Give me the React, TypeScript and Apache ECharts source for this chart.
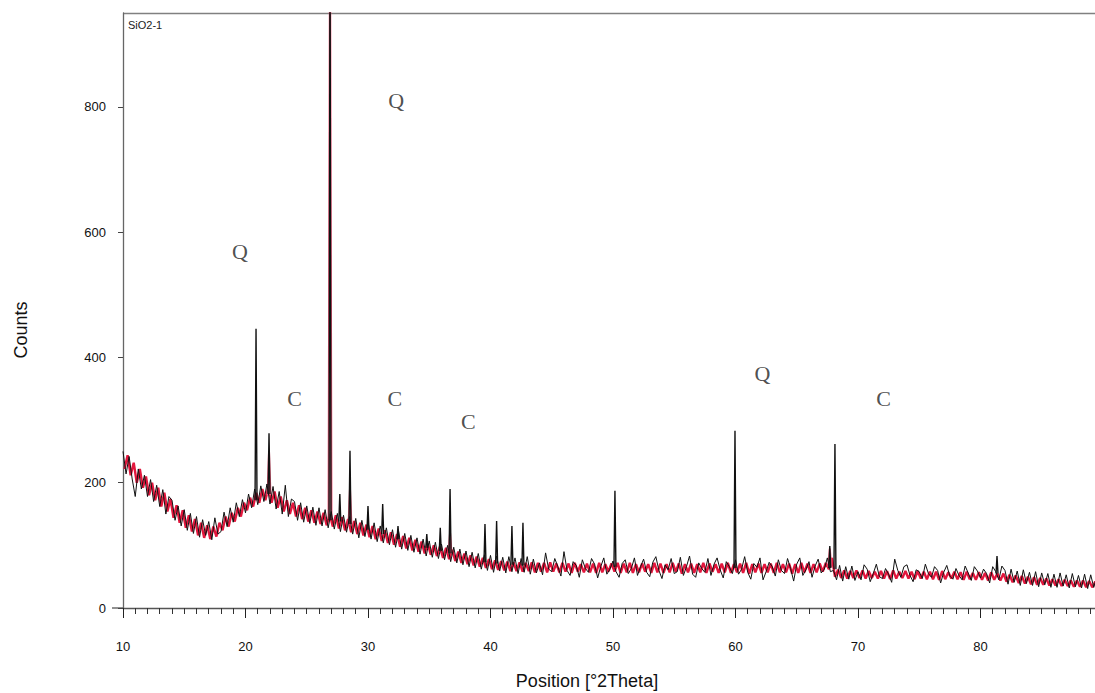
import React, { useEffect, useRef } from "react";
import * as echarts from "echarts";

// ---- data ----
const blackStart = 10;
const blackStep = 0.25;
const blackCounts = [
  250, 214, 242, 206, 178, 222, 190, 212,
  178, 205, 170, 196, 162, 189, 150, 178,
  172, 140, 163, 131, 157, 124, 151, 119,
  146, 113, 141, 116, 138, 109, 144, 118,
  122, 153, 130, 160, 137, 168, 146, 173,
  152, 182, 160, 190, 165, 195, 170, 198,
  166, 194, 158, 186, 150, 196, 146, 174,
  170, 140, 168, 137, 163, 135, 161, 132,
  160, 131, 157, 128, 154, 126, 151, 122,
  148, 121, 146, 118, 143, 112, 140, 114,
  138, 110, 136, 106, 131, 104, 128, 101,
  125, 97, 122, 94, 119, 92, 116, 89,
  112, 86, 110, 83, 107, 81, 105, 79,
  102, 77, 100, 74, 97, 72, 94, 69,
  91, 66, 89, 64, 87, 62, 85, 60,
  84, 57, 83, 59, 81, 56, 82, 58,
  80, 55, 79, 57, 82, 54, 78, 56,
  72, 53, 88, 62, 58, 79, 66, 51,
  90, 60, 52, 74, 68, 49, 77, 63,
  57, 79, 70, 48, 66, 80, 54, 62,
  75, 58, 49, 71, 77, 55, 63, 80,
  52, 66, 78, 57, 50, 73, 82, 60,
  47, 69, 61, 79, 55, 58, 81, 52,
  66, 83, 54, 49, 72, 63, 57, 79,
  52, 70, 80, 61, 48, 74, 66, 55,
  77, 54, 62, 82, 57, 46, 71, 65,
  80, 45, 58, 73, 66, 51, 77, 60,
  55, 79, 63, 43, 70, 80, 52, 61,
  74, 49, 67, 78, 56, 62, 80, 58,
  60, 45, 68, 43, 66, 46, 67, 44,
  58, 45, 69, 62, 42, 55, 70, 50,
  47, 63, 54, 41, 78, 60, 49, 66,
  69, 52, 42, 61, 58, 47, 70, 55,
  49, 66, 60, 40, 57, 68, 51, 46,
  63, 52, 45, 67, 56, 44, 66, 59,
  48, 62, 55, 40, 66, 58, 45, 67,
  60, 38, 62, 41, 59, 36, 61, 39,
  57, 36, 58, 34, 56, 37, 55, 33,
  54, 33, 56, 35, 53, 32, 55, 34,
  52, 32, 54, 31, 53, 33, 51, 30,
  44,
];

const redStart = 10.125;
const redStep = 0.25;
const redCounts = [
  222, 244, 212, 232, 200, 222, 192, 210,
  180, 200, 172, 192, 162, 184, 154, 174,
  144, 164, 136, 156, 128, 148, 122, 142,
  116, 136, 112, 132, 110, 130, 114, 136,
  124, 146, 130, 152, 138, 160, 146, 168,
  156, 176, 162, 184, 168, 190, 172, 194,
  168, 186, 160, 178, 154, 172, 150, 168,
  146, 164, 142, 160, 138, 156, 136, 154,
  134, 152, 132, 150, 130, 148, 127, 145,
  124, 142, 121, 139, 118, 136, 116, 133,
  113, 131, 110, 127, 107, 124, 104, 121,
  101, 118, 98, 115, 95, 112, 92, 109,
  90, 106, 87, 103, 85, 100, 83, 98,
  80, 96, 78, 93, 75, 90, 72, 87,
  70, 84, 68, 82, 66, 80, 64, 78,
  62, 76, 61, 75, 60, 74, 59, 73,
  59, 73, 58, 72, 59, 73, 57, 72,
  58, 72, 57, 73, 58, 71, 57, 72,
  58, 71, 56, 72, 58, 70, 57, 71,
  57, 71, 56, 72, 57, 70, 58, 71,
  58, 72, 56, 71, 57, 72, 56, 70,
  57, 71, 58, 70, 56, 72, 57, 71,
  56, 70, 57, 72, 58, 71, 55, 70,
  57, 71, 56, 70, 57, 72, 56, 71,
  58, 70, 56, 71, 57, 72, 56, 70,
  57, 71, 56, 72, 55, 70, 57, 71,
  56, 70, 57, 71, 56, 72, 57, 70,
  57, 71, 55, 70, 56, 72, 57, 71,
  56, 70, 57, 71, 58, 72, 62, 80,
  50, 61, 48, 60, 47, 59, 48, 60,
  48, 60, 47, 59, 48, 58, 47, 59,
  47, 59, 46, 60, 47, 58, 48, 59,
  47, 58, 46, 59, 47, 58, 46, 58,
  46, 58, 45, 59, 46, 57, 47, 58,
  46, 57, 45, 58, 46, 56, 45, 57,
  45, 56, 44, 57, 45, 55, 44, 55,
  42, 53, 41, 52, 40, 51, 39, 50,
  38, 49, 37, 48, 37, 47, 36, 46,
  36, 46, 35, 45, 35, 44, 34, 44,
  34, 44, 33, 43, 33, 42, 33, 42,
];

// sharp reflections (black trace)
const peakThetas = [20.86, 21.92, 26.9, 27.7, 28.53, 30.0, 31.2, 32.45, 34.8, 35.9, 36.7, 39.55, 40.5, 41.75, 42.65, 50.16, 59.96, 67.7, 68.12, 81.35];
const peakTops = [446, 279, 1100, 182, 251, 163, 166, 131, 118, 128, 190, 134, 139, 131, 136, 187, 283, 99, 262, 83];
const peakBases = [172, 182, 140, 138, 134, 125, 118, 110, 96, 91, 87, 73, 71, 69, 68, 66, 64, 64, 62, 55];

// reflections also visible in the red trace
const redPeakThetas = [21.92, 26.9, 28.53, 36.7, 67.7];
const redPeakTops = [250, 1100, 190, 120, 95];
const redPeakBases = [180, 142, 133, 86, 65];

// phase markers
const markerLetters = ["Q", "Q", "C", "C", "C", "Q", "C"];
const markerThetas = [19.55, 32.3, 24.0, 32.2, 38.2, 62.2, 72.1];
const markerCounts = [569, 811, 335, 335, 297, 374, 335];

const yTickValues = [0, 200, 400, 600, 800];
const sampleName = "SiO2-1";
const xTitle = "Position [°2Theta]";
const yTitle = "Counts";

function spikes(thetas: number[], tops: number[], bases: number[], hw: number) {
  const out: any[] = [];
  thetas.forEach((t, i) => {
    out.push([t - hw, bases[i]]);
    out.push([t, tops[i]]);
    out.push([t + hw, bases[i]]);
    out.push(null);
  });
  return out;
}

export default function App() {
  const ref = useRef<HTMLDivElement>(null);
  useEffect(() => {
    if (!ref.current) return;
    const chart = echarts.init(ref.current, undefined, { renderer: "svg" });
    const black = blackCounts.map((v, i) => [blackStart + i * blackStep, v]);
    const red = redCounts.map((v, i) => [redStart + i * redStep, v]);
    const font = "'Liberation Sans', Arial, sans-serif";
    chart.setOption({
      animation: false,
      backgroundColor: "#ffffff",
      grid: {
        left: 123,
        right: 0,
        top: 13,
        bottom: 85,
        show: false,
      },
      xAxis: {
        type: "value",
        min: 10,
        max: 89.35,
        interval: 10,
        axisLine: { show: true, onZero: false, lineStyle: { color: "#555", width: 1.3 } },
        axisTick: { show: true, inside: false, length: 10, lineStyle: { color: "#222" } },
        minorTick: { show: true, splitNumber: 10, length: 6, lineStyle: { color: "#333" } },
        axisLabel: { margin: 32, fontSize: 13, color: "#111", fontFamily: font, showMaxLabel: false },
        splitLine: { show: false },
      },
      yAxis: {
        type: "value",
        min: 0,
        max: 950,
        axisLine: { show: true, lineStyle: { color: "#666", width: 1.3 } },
        axisTick: { show: true, length: 5, customValues: yTickValues, lineStyle: { color: "#444" } },
        axisLabel: { margin: 17, fontSize: 13, color: "#111", fontFamily: font, customValues: yTickValues },
        splitLine: { show: false },
      },
      series: [
        {
          type: "line",
          data: red,
          symbol: "none",
          lineStyle: { color: "#e3173d", width: 2.4 },
          z: 2,
        },
        {
          type: "line",
          data: spikes(redPeakThetas, redPeakTops, redPeakBases, 0.12),
          symbol: "none",
          connectNulls: false,
          lineStyle: { color: "#ef5a7a", width: 2 },
          z: 2,
        },
        {
          type: "line",
          data: black,
          symbol: "none",
          lineStyle: { color: "#111", width: 1 },
          z: 3,
        },
        {
          type: "line",
          data: spikes(peakThetas, peakTops, peakBases, 0.08),
          symbol: "none",
          connectNulls: false,
          lineStyle: { color: "#111", width: 1.4 },
          z: 4,
        },
        {
          type: "scatter",
          data: markerThetas.map((t, i) => [t, markerCounts[i], markerLetters[i]]),
          symbolSize: 0,
          silent: true,
          z: 5,
          label: {
            show: true,
            position: "inside",
            formatter: (p: any) => p.value[2],
            fontFamily: "'Liberation Serif', 'Times New Roman', serif",
            fontSize: 22,
            color: "#222",
          },
        },
      ],
      graphic: [
        {
          type: "text",
          left: 128,
          top: 19,
          style: { text: sampleName, fontSize: 11, fill: "#222", fontFamily: font },
        },
        {
          type: "text",
          x: 587,
          y: 681,
          style: { text: xTitle, fontSize: 18, fill: "#111", fontFamily: font, align: "center", verticalAlign: "middle" },
        },
        {
          type: "text",
          x: 21,
          y: 330,
          rotation: Math.PI / 2,
          style: { text: yTitle, fontSize: 18, fill: "#111", fontFamily: font, align: "center", verticalAlign: "middle" },
        },
        {
          type: "line",
          shape: { x1: 112, y1: 608, x2: 123, y2: 608 },
          style: { stroke: "#555", lineWidth: 1.3 },
        },
        {
          type: "line",
          shape: { x1: 123, y1: 13.5, x2: 1095, y2: 13.5 },
          style: { stroke: "#808080", lineWidth: 1.3 },
        },
      ],
    });
    return () => chart.dispose();
  }, []);
  return <div ref={ref} style={{ position: "absolute", left: 0, top: 0, width: 1095, height: 693 }} />;
}
